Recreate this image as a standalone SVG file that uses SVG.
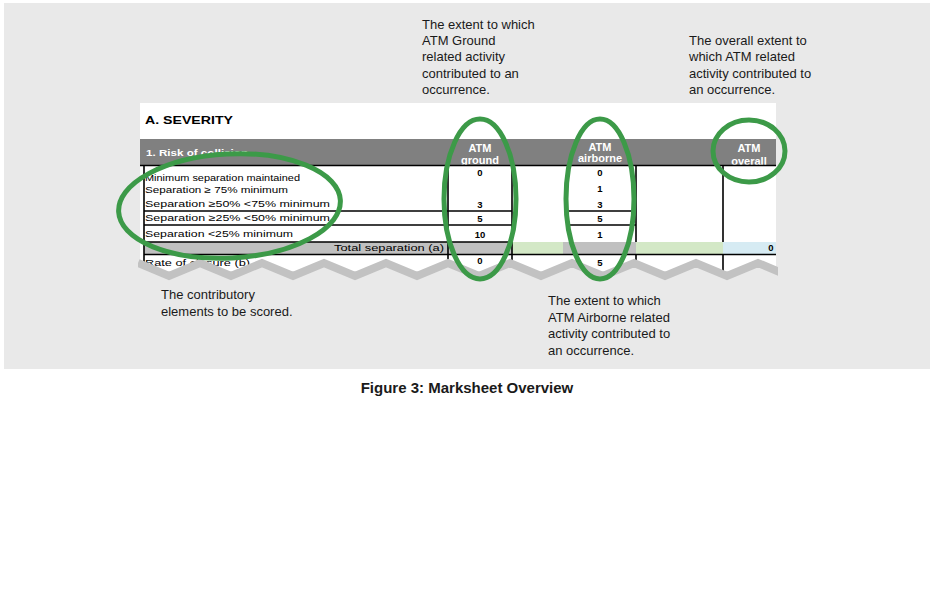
<svg xmlns="http://www.w3.org/2000/svg" width="935" height="612" viewBox="0 0 935 612">
<style>
.note{font-family:"Liberation Sans",Arial,sans-serif;font-size:13px;fill:#1a1a1a}
.cell{font-family:"Liberation Sans",Arial,sans-serif;font-size:9px;fill:#000}
.hdr{font-family:"Liberation Sans",Arial,sans-serif;font-size:11px;font-weight:bold;fill:#fff;text-anchor:middle}
.num{font-family:"Liberation Sans",Arial,sans-serif;font-size:9.5px;font-weight:bold;fill:#000;text-anchor:middle}
.grid{stroke:#000;stroke-width:1.6;fill:none}
.ring{fill:none;stroke:#3c9a48;stroke-width:5}
</style>
<defs>
<clipPath id="tclip"><rect x="138" y="100" width="640" height="200"/></clipPath>
</defs>
<rect x="0" y="0" width="935" height="612" fill="#ffffff"/>
<rect x="4" y="3" width="926" height="366" fill="#e9e9e9"/>

<g id="table">
<rect x="140" y="103" width="636" height="175" fill="#ffffff"/>
<text x="145" y="124" font-family="Liberation Sans,Arial,sans-serif" font-size="11.5" font-weight="bold" textLength="88" lengthAdjust="spacingAndGlyphs">A. SEVERITY</text>
<rect x="140" y="139" width="636" height="26" fill="#808080"/>
<text x="146" y="156" font-family="Liberation Sans,Arial,sans-serif" font-size="9.5" font-weight="bold" fill="#fff" textLength="102" lengthAdjust="spacingAndGlyphs">1. Risk of collision</text>
<text class="hdr" x="480" y="152">ATM</text>
<text class="hdr" x="480" y="164">ground</text>
<text class="hdr" x="600" y="151">ATM</text>
<text class="hdr" x="600" y="162">airborne</text>
<text class="hdr" x="749" y="152">ATM</text>
<text class="hdr" x="749" y="165">overall</text>

<rect x="144" y="242" width="368" height="12" fill="#c0c0c0"/>
<rect x="512" y="242" width="51" height="12" fill="#d3e8c6"/>
<rect x="563" y="242" width="73" height="12" fill="#c0c0c0"/>
<rect x="636" y="242" width="87" height="12" fill="#d3e8c6"/>
<rect x="723" y="242" width="53" height="12" fill="#d6ebf3"/>

<path class="grid" d="M140 165.5H776 M144 165V280 M448 165V280 M512 165V280 M636 165V242 M636 254V280 M723 165V242 M723 254V280 M144 211H512 M567 211H636 M144 225H512 M567 225H636 M144 242H512 M144 254.5H776"/>

<text class="cell" x="145" y="181" textLength="155" lengthAdjust="spacingAndGlyphs">Minimum separation maintained</text>
<text class="cell" x="145" y="193" textLength="143" lengthAdjust="spacingAndGlyphs">Separation ≥ 75% minimum</text>
<text class="cell" x="145" y="207" textLength="185" lengthAdjust="spacingAndGlyphs">Separation ≥50% &lt;75% minimum</text>
<text class="cell" x="145" y="221" textLength="185" lengthAdjust="spacingAndGlyphs">Separation ≥25% &lt;50% minimum</text>
<text class="cell" x="145" y="237" textLength="148" lengthAdjust="spacingAndGlyphs">Separation &lt;25% minimum</text>
<text class="cell" x="444" y="251" text-anchor="end" textLength="110" lengthAdjust="spacingAndGlyphs">Total separation (a)</text>
<text class="cell" x="145" y="266" textLength="105" lengthAdjust="spacingAndGlyphs">Rate of closure (b)</text>

<text class="num" x="480" y="176">0</text>
<text class="num" x="480" y="208">3</text>
<text class="num" x="480" y="222">5</text>
<text class="num" x="480" y="238">10</text>
<text class="num" x="480" y="264">0</text>
<text class="num" x="600" y="176">0</text>
<text class="num" x="600" y="192">1</text>
<text class="num" x="600" y="208">3</text>
<text class="num" x="600" y="222">5</text>
<text class="num" x="600" y="238">1</text>
<text class="num" x="600" y="266">5</text>
<text class="num" x="771" y="251">0</text>
</g>

<g id="tear" clip-path="url(#tclip)">
<path d="M138 263 L169 276 L200 263 L231 276 L262 263 L293 276 L324 263 L355 276 L386 263 L417 276 L448 263 L479 276 L510 263 L541 276 L572 263 L603 276 L634 263 L665 276 L696 263 L727 276 L758 263 L789 276 L789 300 L138 300 Z" fill="#e9e9e9"/>
<path d="M138 263 L169 276 L200 263 L231 276 L262 263 L293 276 L324 263 L355 276 L386 263 L417 276 L448 263 L479 276 L510 263 L541 276 L572 263 L603 276 L634 263 L665 276 L696 263 L727 276 L758 263 L789 276" fill="none" stroke="#c2c2c2" stroke-width="8" stroke-linejoin="miter"/>
</g>

<g id="connectors">
<ellipse id="ring-elements" class="ring" cx="229.5" cy="206" rx="111" ry="52" transform="rotate(-3 229.5 206)"/>
<ellipse id="ring-ground" class="ring" cx="480" cy="199" rx="36" ry="80"/>
<ellipse id="ring-airborne" class="ring" cx="600" cy="199" rx="34" ry="80"/>
<ellipse id="ring-overall" class="ring" cx="749" cy="151" rx="36" ry="31"/>
</g>

<g id="note-ground">
<text class="note" x="422" y="29">The extent to which</text>
<text class="note" x="422" y="45">ATM Ground</text>
<text class="note" x="422" y="61">related activity</text>
<text class="note" x="422" y="78">contributed to an</text>
<text class="note" x="422" y="94">occurrence.</text>
</g>
<g id="note-overall">
<text class="note" x="689" y="45">The overall extent to</text>
<text class="note" x="689" y="61">which ATM related</text>
<text class="note" x="689" y="78">activity contributed to</text>
<text class="note" x="689" y="94">an occurrence.</text>
</g>
<g id="note-elements">
<text class="note" x="161" y="299">The contributory</text>
<text class="note" x="161" y="316">elements to be scored.</text>
</g>
<g id="note-airborne">
<text class="note" x="548" y="305">The extent to which</text>
<text class="note" x="548" y="322">ATM Airborne related</text>
<text class="note" x="548" y="338">activity contributed to</text>
<text class="note" x="548" y="355">an occurrence.</text>
</g>
<text x="467" y="393" text-anchor="middle" font-family="Liberation Sans,Arial,sans-serif" font-size="15" font-weight="bold" fill="#1a1a1a">Figure 3: Marksheet Overview</text>
</svg>
